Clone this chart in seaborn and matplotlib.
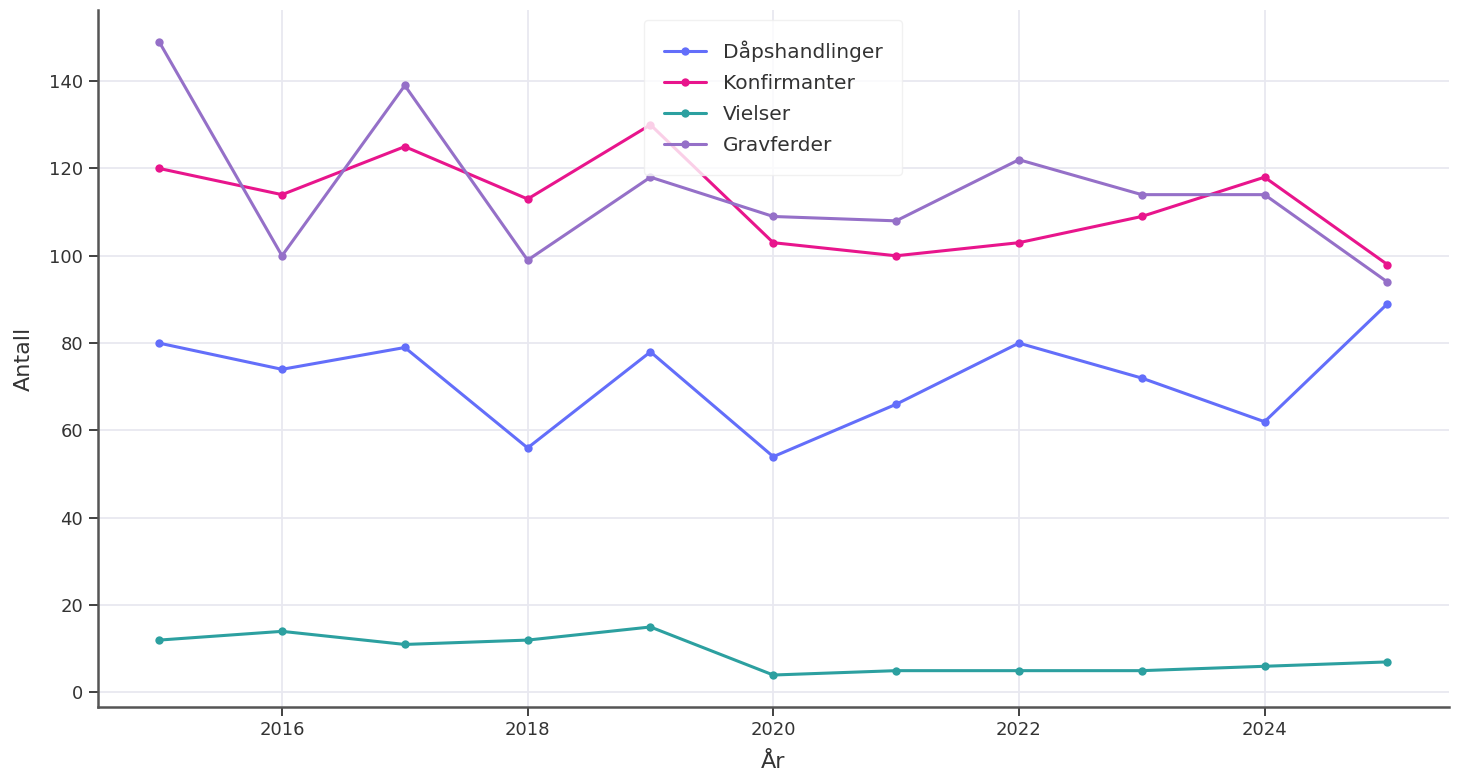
import matplotlib
matplotlib.use("Agg")
import matplotlib.pyplot as plt
import seaborn as sns
import pandas as pd

years = list(range(2015, 2026))
dap = [80, 74, 79, 56, 78, 54, 66, 80, 72, 62, 89]
konf = [120, 114, 125, 113, 130, 103, 100, 103, 109, 118, 98]
viel = [12, 14, 11, 12, 15, 4, 5, 5, 5, 6, 7]
grav = [149, 100, 139, 99, 118, 109, 108, 122, 114, 114, 94]
series_names = ["Dåpshandlinger", "Konfirmanter", "Vielser", "Gravferder"]
colors = ["#636EFA", "#E8158C", "#2CA0A0", "#9570C8"]

df = pd.DataFrame({"År": years * 4,
                   "Antall": dap + konf + viel + grav,
                   "Serie": sum([[n] * len(years) for n in series_names], [])})

sns.set_theme(style="whitegrid")
plt.rcParams['font.family'] = ['DejaVu Sans']
fig = plt.figure(figsize=(14.59, 7.8), dpi=100)
ax = fig.add_axes([0.067, 0.094, 0.926, 0.893])
sns.lineplot(data=df, x="År", y="Antall", hue="Serie", palette=colors,
             marker="o", markersize=6, markeredgewidth=0, linewidth=2.2, ax=ax)
ax.grid(True, color="#e8e8f0", linewidth=1.3)
ax.set_facecolor("white")
for s in ["top", "right"]:
    ax.spines[s].set_visible(False)
for s in ["left", "bottom"]:
    ax.spines[s].set_color("#555555")
    ax.spines[s].set_linewidth(1.8)
ax.tick_params(axis="both", which="major", length=6.5, width=1.3, color="#333333",
               labelsize=13, labelcolor="#333333", bottom=True, left=True, pad=4)
ax.set_xlabel("År", fontsize=16, color="#333333", labelpad=9)
ax.set_ylabel("Antall", fontsize=16, color="#333333", labelpad=11)
leg = ax.legend(loc="upper center", fontsize=14.5, frameon=True, borderpad=1.0,
                labelspacing=0.6, handlelength=2.1, handletextpad=0.8,
                bbox_to_anchor=(0.5, 1.0))
leg.get_frame().set_edgecolor("#eeeeee")
leg.get_frame().set_alpha(0.8)
for t in leg.get_texts():
    t.set_color("#333333")
fig.savefig("out.png", dpi=100)
